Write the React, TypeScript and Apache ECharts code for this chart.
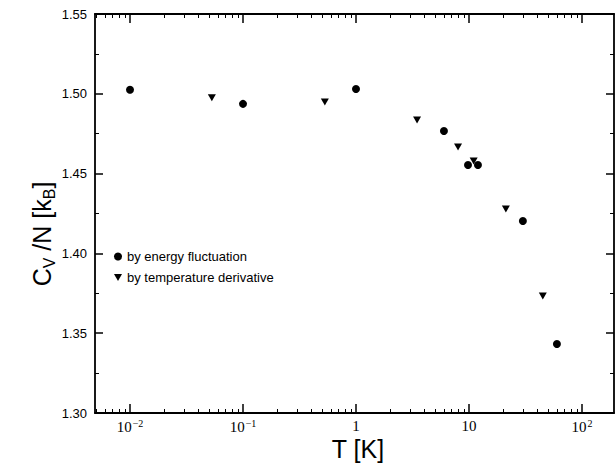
import React, { useEffect, useRef } from "react";
import * as echarts from "echarts";

// Data
const energyT = [0.01, 0.1, 1, 6, 9.8, 12, 30, 60];
const energyCv = [1.5025, 1.4937, 1.503, 1.4767, 1.4554, 1.4554, 1.4203, 1.3432];
const derivT = [0.053, 0.53, 3.47, 8.0, 11, 21.2, 45];
const derivCv = [1.4975, 1.4949, 1.4836, 1.4667, 1.4579, 1.4278, 1.3733];

const seriesNames = ["by energy fluctuation", "by temperature derivative"];

const xMajorTicks = [0.01, 0.1, 1, 10, 100];
const xTickLabels = ["10{sup|\u22122}", "10{sup|\u22121}", "1", "10", "10{sup|2}"];
const xMinorTicks = [
  0.005, 0.006, 0.007, 0.008, 0.009,
  0.02, 0.03, 0.04, 0.05, 0.06, 0.07, 0.08, 0.09,
  0.2, 0.3, 0.4, 0.5, 0.6, 0.7, 0.8, 0.9,
  2, 3, 4, 5, 6, 7, 8, 9,
  20, 30, 40, 50, 60, 70, 80, 90,
];
const xMin = 0.0049;
const xMax = 192;
const yMin = 1.3;
const yMax = 1.55;
const yInterval = 0.05;

const invTriangle = "path://M0,0 L10,0 L5,9 Z";

export default function App() {
  const ref = useRef<HTMLDivElement>(null);

  useEffect(() => {
    if (!ref.current) return;
    const chart = echarts.init(ref.current, undefined, { renderer: "svg" });
    const black = "#000";
    const axisLine = { show: true, lineStyle: { color: black, width: 1.8 } };
    const majorTick = { show: true, inside: true, length: 9, customValues: xMajorTicks, lineStyle: { color: black, width: 1.5 } };
    const minorTick = { show: true, inside: true, length: 4, customValues: xMinorTicks, lineStyle: { color: black, width: 1 } };
    const baseX = { type: "log", logBase: 10, min: xMin, max: xMax, splitLine: { show: false } };
    const baseY = {
      type: "value",
      min: yMin,
      max: yMax,
      interval: yInterval,
      splitLine: { show: false },
      axisLine,
      axisTick: { show: true, inside: true, length: 8, lineStyle: { color: black, width: 1.5 } },
      minorTick: { show: true, splitNumber: 2, length: 4, lineStyle: { color: black, width: 1 } },
    };

    const option: any = {
      animation: false,
      backgroundColor: "#fff",
      grid: { left: 95, right: 2, top: 14, bottom: 55, containLabel: false, outerBoundsMode: "none" },
      legend: {
        orient: "vertical",
        left: 109,
        top: 245,
        itemWidth: 8,
        itemHeight: 8,
        itemGap: 8,
        data: [
          { name: seriesNames[0], icon: "circle" },
          { name: seriesNames[1], icon: invTriangle },
        ],
        itemStyle: { opacity: 1 },
        textStyle: { fontFamily: "Liberation Sans", fontSize: 13, color: black },
      },
      xAxis: [
        {
          ...baseX,
          position: "bottom",
          axisLine,
          axisTick: majorTick,
          axisLabel: {
            show: true,
            customValues: xMajorTicks,
            margin: 5,
            color: black,
            fontFamily: "Liberation Serif",
            fontSize: 15,
            formatter: (v: number) => xTickLabels[Math.round(Math.log10(v)) + 2] ?? "",
            rich: {
              sup: { fontFamily: "Liberation Serif", fontSize: 10, verticalAlign: "top", padding: [0, 0, 8, 1], color: black },
            },
          },
        },
        { ...baseX, position: "bottom", axisLine: { show: false }, axisTick: minorTick, axisLabel: { show: false } },
        { ...baseX, position: "top", axisLine, axisTick: majorTick, axisLabel: { show: false } },
        { ...baseX, position: "top", axisLine: { show: false }, axisTick: minorTick, axisLabel: { show: false } },
      ],
      yAxis: [
        {
          ...baseY,
          position: "left",
          axisLabel: {
            show: true,
            margin: 8,
            color: black,
            fontFamily: "Liberation Sans",
            fontSize: 13,
            formatter: (v: number) => v.toFixed(2),
          },
        },
        { ...baseY, position: "right", axisLabel: { show: false } },
      ],
      graphic: [
        {
          type: "text",
          x: 358,
          y: 449,
          style: {
            text: "T [K]",
            fontFamily: "Liberation Sans",
            fontSize: 25,
            fill: black,
            align: "center",
            verticalAlign: "middle",
          },
        },
        {
          type: "text",
          x: 42,
          y: 234,
          rotation: Math.PI / 2,
          style: {
            text: "{a|C}{s|V}{a| /N [k}{s|B}{a|]}",
            align: "center",
            verticalAlign: "middle",
            rich: {
              a: { fontFamily: "Liberation Sans", fontSize: 25, fill: black, lineHeight: 30 },
              s: { fontFamily: "Liberation Sans", fontSize: 16, fill: black, verticalAlign: "bottom", lineHeight: 30 },
            },
          },
        },
      ],
      series: [
        {
          name: seriesNames[0],
          type: "scatter",
          xAxisIndex: 0,
          yAxisIndex: 0,
          symbol: "circle",
          symbolSize: 8,
          itemStyle: { color: black, opacity: 1 },
          data: energyT.map((t, i) => [t, energyCv[i]]),
        },
        {
          name: seriesNames[1],
          type: "scatter",
          xAxisIndex: 0,
          yAxisIndex: 0,
          symbol: invTriangle,
          symbolSize: [8, 7],
          itemStyle: { color: black, opacity: 1 },
          data: derivT.map((t, i) => [t, derivCv[i]]),
        },
      ],
    };
    chart.setOption(option);
    return () => chart.dispose();
  }, []);

  return (
    <div
      ref={ref}
      style={{ position: "absolute", left: 0, top: 0, width: 616, height: 468, background: "#fff" }}
    />
  );
}
